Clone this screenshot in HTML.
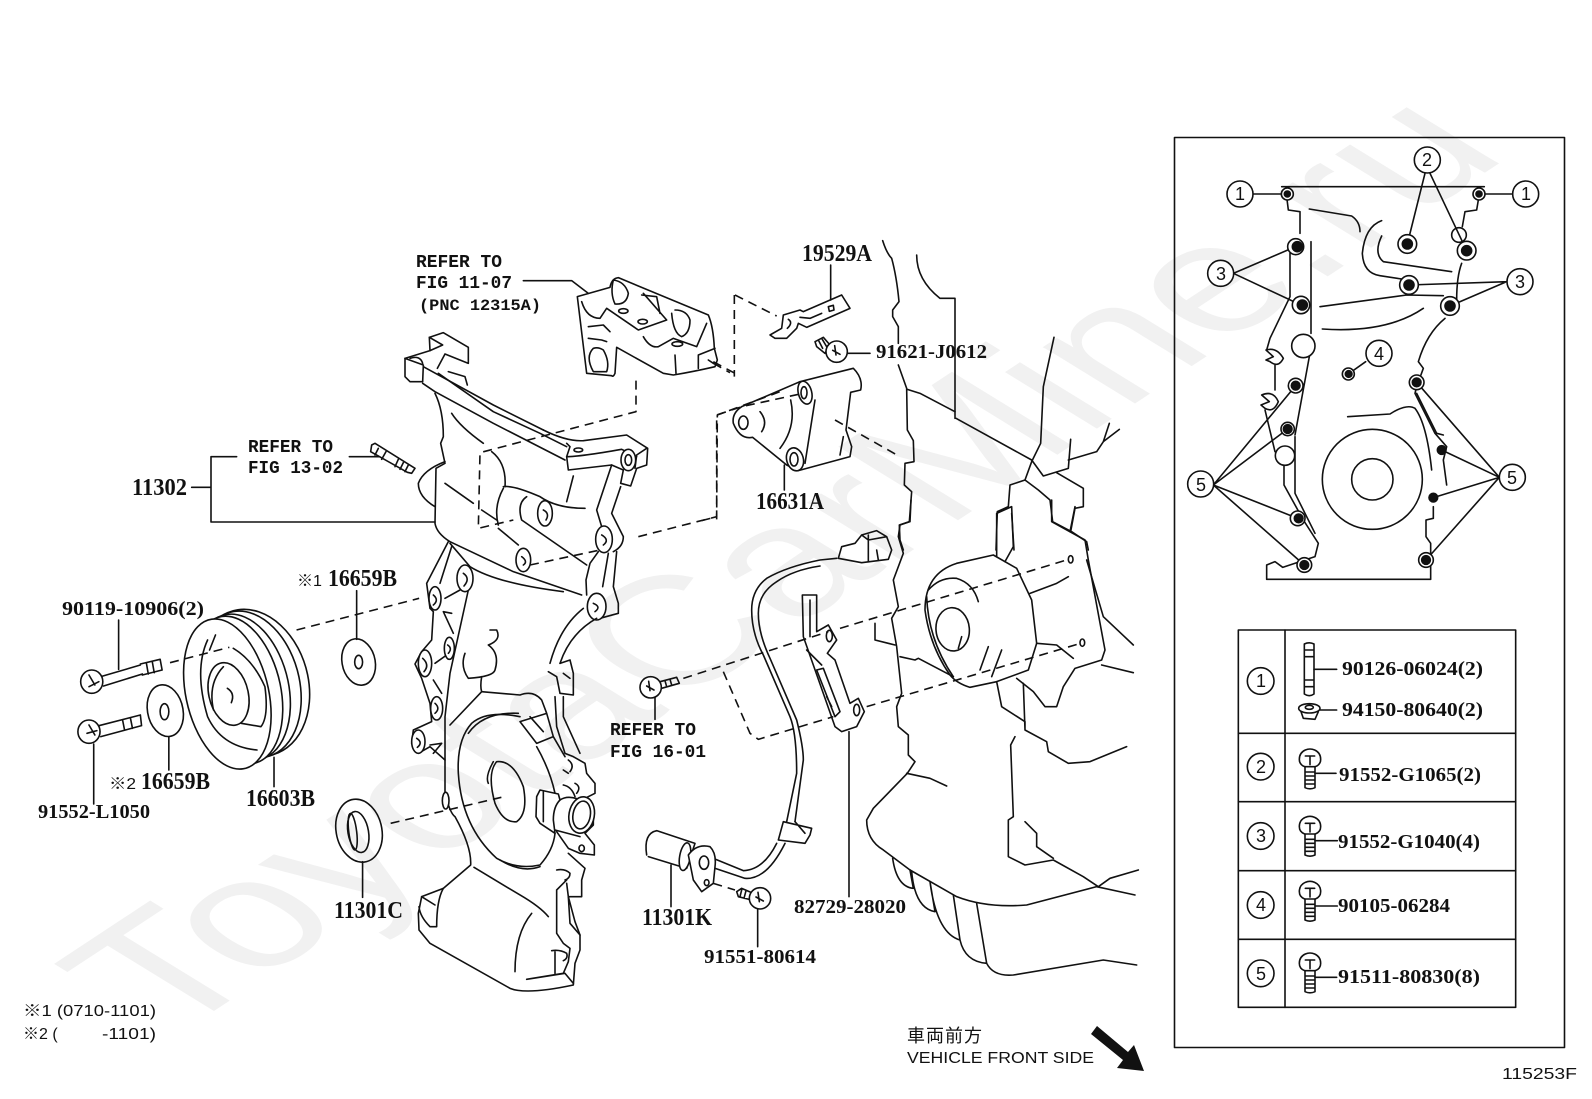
<!DOCTYPE html>
<html><head><meta charset="utf-8"><style>
html,body{margin:0;padding:0;background:#fff}
svg{display:block}
.l *,#tb *,#hb *{fill:none;stroke:#111;stroke-width:1.6;vector-effect:non-scaling-stroke;stroke-linejoin:round;stroke-linecap:round}
.l .w,#tb .w,#hb .w{fill:#fff}
.l .k{fill:#111}
.l .d{stroke-dasharray:9 6;stroke-linecap:butt}
text{fill:#111}
.n{font-family:"Liberation Serif",serif;font-weight:bold;font-size:20px}
.b{font-family:"Liberation Serif",serif;font-weight:bold;font-size:24px}
.m{font-family:"Liberation Mono",monospace;font-weight:bold;font-size:18px}
.s{font-family:"Liberation Sans",sans-serif;font-size:16px}
.c{font-family:"Liberation Sans",sans-serif;font-size:18px;text-anchor:middle}
.wm{font-family:"Liberation Sans",sans-serif;font-size:154px;fill:#f1f1f1}
</style></head><body>
<svg width="1592" height="1099" viewBox="0 0 1592 1099" xmlns="http://www.w3.org/2000/svg">
<defs>
<g id="tb">
<path class="w" d="M-14,-28 Q0,-34 14,-28 Q32,-20 32,0 Q32,16 16,22 L-16,22 Q-32,16 -32,0 Q-32,-20 -14,-28Z"/>
<path d="M-14,-10 L14,-10 M0,-10 L0,16 M-15,22 L-15,85 Q0,92 15,85 L15,22 M-15,38 L15,38 M-15,50 L15,50 M-15,62 L15,62 M-15,74 L15,74"/>
</g>
<g id="hb">
<circle class="w" cx="0" cy="0" r="32"/>
<path d="M-12,-4 L10,8 M-6,-18 L-2,10"/>
</g>
</defs>

<text class="wm" transform="translate(170,1040) scale(1.57,1) rotate(-46)" textLength="1229" lengthAdjust="spacingAndGlyphs">ToyotaCarMine.ru</text>

<!-- upper cover + bracket -->
<g class="l" transform="translate(380,230) scale(.33333)">
<path d="M592,200 L690,172 Q695,145 715,143 L985,255 Q1000,290 1003,355 L1012,390 L1005,410 Q940,425 880,435 L850,430 L710,352 L705,430 Q700,442 695,437 L620,430 Z"/>
<path d="M605,215 Q620,265 660,265 L680,235 L775,300 L860,270 L790,190"/>
<path d="M700,150 Q690,190 705,222 Q740,225 745,190 Q735,155 700,150"/>
<path d="M785,195 L830,200 L840,250 M790,320 Q810,355 835,350 L880,325 L950,350 L980,280"/>
<path d="M875,250 Q880,310 905,320 Q930,310 930,270 Q920,240 885,240"/>
<ellipse cx="730" cy="243" rx="14" ry="7"/><ellipse cx="788" cy="275" rx="14" ry="7"/><ellipse cx="892" cy="342" rx="16" ry="7"/>
<path d="M625,290 L670,285 L690,305 M625,325 L665,330 L680,335"/>
<path d="M640,355 Q615,380 640,425 L680,425 Q690,395 670,360 Q655,350 640,355"/>
<path d="M885,375 L888,430 M955,375 L1005,355 M955,375 L955,415"/>
<path d="M985,390 L1000,400"/>
<path class="d" d="M1000,400 L1050,428"/>
<path d="M75,385 L150,362 L148,322 L190,308 L265,352 L265,400 L195,372 L172,415"/>
<path d="M75,385 L75,440 L90,455 L128,455 L130,405 L75,385"/>
<path d="M148,322 L188,345 L150,362"/>
<path d="M90,385 Q120,375 128,400"/>
<path d="M130,410 L340,525 L490,600"/>
<path d="M128,460 L165,485 L340,580 L555,690"/>
<path d="M205,425 L255,440 L262,465"/>
<path d="M175,430 L340,545 L480,610 L560,650"/>
<path d="M490,600 Q560,635 610,632 L740,615 L803,655 L800,705 L770,715 L752,768 L722,760 L730,720 L695,705 L565,720 L560,680 L570,650 L560,640"/>
<path d="M560,680 Q600,680 725,658 L770,680 M800,655 L770,675 L765,715"/>
<ellipse cx="595" cy="660" rx="13" ry="6"/>
<ellipse class="w" cx="745" cy="690" rx="22" ry="32"/>
<ellipse cx="745" cy="690" rx="10" ry="16"/>
<path d="M165,490 Q190,540 190,620 L182,640 L195,700 L168,715 L165,880 Q170,910 210,935 L400,1025 L605,1095"/>
<path d="M195,695 Q130,720 115,760 Q115,800 165,830"/>
<path d="M215,550 Q240,590 310,640 M335,665 Q380,700 375,770 M195,760 L280,820 M305,840 L350,870 M355,895 L415,945"/>
<path d="M370,770 Q400,765 480,800 Q530,835 615,835 M370,775 Q340,830 355,885"/>
<path d="M440,800 Q410,820 425,870 L620,1005 M580,738 L560,815"/>
<ellipse cx="495" cy="850" rx="22" ry="38"/><path d="M490,840 Q510,850 498,870"/>
<ellipse cx="430" cy="990" rx="22" ry="35"/><path d="M425,980 Q445,995 430,1005"/>
<path d="M695,705 L650,840 L665,890 M722,770 L695,850 L730,920 Q730,950 700,965"/>
<ellipse class="w" cx="672" cy="928" rx="25" ry="40"/><path d="M665,915 Q690,930 670,945"/>
<path d="M655,965 L630,1000 L618,1050 L620,1095 M685,970 L668,1070 M710,965 L700,1070 L715,1120 L715,1150 L660,1165"/>
<ellipse class="w" cx="650" cy="1130" rx="28" ry="40"/><path d="M640,1120 Q665,1130 645,1145"/>
<path d="M210,940 L270,1010 Q350,1060 550,1085"/>
<path class="d" d="M768,452 L768,545 L300,668 L295,895 L400,870"/>
<path class="d" d="M450,1005 L660,960 M775,920 L1010,860 L1012,555 L1200,485"/>
<path d="M430,152 L575,152 L625,190"/>
</g>

<!-- lower cover -->
<g class="l" transform="translate(400,540) scale(.33333)">
<path d="M205,150 L150,400 L135,530 L135,760 Q150,820 165,830 Q215,920 212,975 L130,1045 L65,1070 L55,1120 L57,1170 L90,1210 L330,1345 Q380,1365 520,1335 L525,1270 L540,1230 L540,1185 L510,1150 L505,1070 L545,1070 L545,1020 L555,985 L505,940"/>
<path d="M145,5 L80,130 L90,205 L100,215 L95,300 L65,335 L45,372 L65,415 L90,490 L95,545 L40,570 L35,610 L55,640 L90,620 L135,660"/>
<path d="M155,20 L120,130 M155,220 L130,215 L160,280 M135,175 L180,150 M105,370 L140,345 M100,420 L125,460 M90,615 L125,610 L100,640"/>
<ellipse class="w" cx="195" cy="115" rx="24" ry="40"/><path d="M190,100 Q212,115 192,138"/>
<ellipse class="w" cx="105" cy="175" rx="18" ry="35"/><path d="M100,165 Q118,180 100,195"/>
<ellipse class="w" cx="148" cy="325" rx="15" ry="33"/><path d="M143,315 Q158,325 145,340"/>
<ellipse class="w" cx="75" cy="370" rx="20" ry="40"/><path d="M68,355 Q90,375 72,395"/>
<ellipse class="w" cx="110" cy="505" rx="18" ry="35"/><path d="M105,490 Q122,505 105,520"/>
<ellipse class="w" cx="55" cy="605" rx="20" ry="35"/><path d="M50,595 Q70,608 52,622"/>
<ellipse class="w" cx="137" cy="782" rx="10" ry="25"/>
<path d="M550,205 Q480,260 450,370 M590,235 Q510,280 480,370"/>
<path d="M445,395 L470,410 L480,460 L520,465 L520,400 L510,360 L480,370 M490,400 L510,415"/>
<path d="M465,470 L470,560 L495,640 L520,650 L555,670 L560,700 L585,730 L585,760 L555,775 L580,800 L580,855 L555,880 L583,915 L583,945 L540,940 L505,925 L470,875"/>
<path d="M490,470 L490,530 L540,640"/>
<path d="M245,410 Q240,440 245,455 L360,465 Q400,450 425,480 L440,520 L360,545 L410,610 L460,590 L440,520 M390,530 L430,575 M460,590 L495,650"/>
<path d="M245,455 L150,555 M195,340 Q180,380 205,415 Q280,410 285,390 Q300,340 265,315 Q305,300 290,270 L270,270"/>
<path d="M360,530 Q260,510 215,550 Q170,600 175,700 Q185,860 290,955 Q350,990 420,975 Q460,930 465,880"/>
<path d="M355,520 Q250,515 205,580 M410,620 Q450,690 465,760 M420,980 Q365,1000 300,960"/>
<path d="M290,665 Q260,700 285,790 Q310,850 350,845 Q385,820 370,740 Q340,660 290,665 M280,665 Q255,710 265,730"/>
<path class="w" d="M420,750 L475,762 L480,780 Q460,800 460,840 L465,880 L420,850 L408,830 L410,770 Z"/>
<path d="M430,755 L430,845 M480,780 Q510,760 560,790 M465,870 L540,890"/>
<ellipse class="w" cx="545" cy="825" rx="38" ry="55" transform="rotate(10 545 825)"/>
<ellipse cx="545" cy="825" rx="26" ry="42" transform="rotate(10 545 825)"/>
<path d="M505,660 Q525,675 510,695 M490,690 L505,700 M525,730 Q545,740 530,760 M490,735 Q515,740 525,770"/>
<ellipse cx="545" cy="925" rx="8" ry="10"/>
<path d="M470,990 Q495,985 510,1000 Q510,1015 495,1020 M470,1050 L500,1020 M470,1050 L470,1180 L490,1210 L510,1225 L505,1265 L490,1300 L380,1318 L495,1300 L520,1330"/>
<path d="M500,1030 L505,1070 L525,1145 L540,1185 M465,1235 L465,1300 M455,1232 Q480,1228 500,1240 Q505,1255 490,1262"/>
<path d="M222,982 L360,1065 Q420,1100 445,1130 M395,1120 Q345,1180 345,1295 M65,1070 L105,1095 M130,1045 Q110,1080 110,1160 L90,1160 Q60,1130 57,1100"/>
</g>

<!-- left column (zoom3 coords) -->
<g class="l" transform="translate(0,560) scale(.3954,.33333)">
<ellipse class="w" cx="640" cy="368" rx="140" ry="222" transform="rotate(-10 640 368)"/>
<ellipse class="w" cx="630" cy="373" rx="128" ry="222" transform="rotate(-10 630 373)"/>
<ellipse class="w" cx="612" cy="382" rx="118" ry="222" transform="rotate(-10 612 382)"/>
<ellipse class="w" cx="600" cy="390" rx="110" ry="224" transform="rotate(-10 600 390)"/>
<ellipse class="w" cx="575" cy="402" rx="105" ry="228" transform="rotate(-10 575 402)"/>
<ellipse cx="578" cy="402" rx="50" ry="95" transform="rotate(-10 578 402)"/>
<path d="M525,240 Q490,330 525,470 Q560,560 650,570 M545,225 L530,270 M590,265 Q640,300 670,380 Q680,470 660,500 L610,490 M565,320 Q525,370 540,450"/>
<path d="M575,385 Q595,400 585,428"/>
<path class="d" d="M750,210 L1060,115 M430,308 L580,262"/>
<path d="M255,350 L355,315 M262,378 L360,342 M355,312 L405,298 L410,330 L360,345 M370,308 L375,342 M385,304 L390,338"/>
<ellipse class="w" cx="232" cy="365" rx="28" ry="35"/><path d="M225,345 L240,375 M225,380 L250,365"/>
<path d="M300,180 L300,328"/>
<path d="M250,497 L355,465 L358,497 L255,530 M310,480 L315,510 M330,475 L335,505"/>
<ellipse class="w" cx="225" cy="515" rx="28" ry="35"/><path d="M225,495 L240,525 M220,520 L245,512"/>
<path d="M237,552 L237,732"/>
<ellipse cx="418" cy="452" rx="45" ry="78" transform="rotate(-8 418 452)"/>
<ellipse cx="416" cy="455" rx="11" ry="24"/>
<path d="M427,530 L427,630"/>
<ellipse cx="907" cy="306" rx="42" ry="70" transform="rotate(-8 907 306)"/>
<ellipse cx="907" cy="306" rx="10" ry="20"/>
<path d="M902,92 L902,238"/>
<path d="M693,592 L693,680"/>
<ellipse cx="908" cy="812" rx="58" ry="95" transform="rotate(-8 908 812)"/>
<ellipse cx="906" cy="816" rx="26" ry="62" transform="rotate(-8 906 816)"/>
<ellipse cx="892" cy="815" rx="10" ry="55" transform="rotate(-6 892 815)"/>
<path d="M917,905 L917,1012"/>
<path class="d" d="M988,790 L1268,712"/>
</g>

<!-- 11302 bracket -->
<g class="l" transform="translate(100,400) scale(.33333)">
<path d="M275,262 L333,262 M410,170 L333,170 L333,366 L1005,366 M748,170 L840,170"/>
<path class="w" d="M815,135 L825,130 L945,205 L935,220 L922,217 L812,155 Z"/>
<path d="M835,145 L825,165 M858,155 L845,178 M895,178 L885,200 M910,188 L900,208 M925,195 L915,215"/>
</g>

<!-- top right mid & engine -->
<g class="l" transform="translate(700,230) scale(.33333)">
<path d="M548,32 Q560,70 575,85 Q590,140 597,215 L578,240 L578,260 L595,290 L595,340 M595,405 L620,475 L622,600 L640,632 L642,695 L615,700 L613,765 L635,785 L628,875 L598,885 L600,930 L610,960"/>
<path d="M650,75 Q650,150 720,205 L765,205 L765,565"/>
<path d="M622,478 L660,490 L765,545 M768,565 L995,690 L1030,738 L1105,715 L1112,628"/>
<path d="M1062,322 L1030,470 L1022,640 L995,695 L975,750 M1105,690 L1190,665 L1210,635 L1228,580 M1210,635 L1258,598"/>
<path d="M975,750 L930,765 L925,830 L892,845 L888,960 M975,750 L1015,780 L1050,810 L1058,875 L1115,905 L1160,935 L1165,960 M1070,728 L1150,775 L1150,830 L1125,835 L1112,905 M935,850 L942,960"/>
<path d="M210,315 L245,295 L250,255 L300,240 L310,245 L425,195 L450,235 L320,292 L295,280 L290,295 L260,325 L225,325 Z"/>
<path d="M300,262 L330,265 L365,250 M265,268 Q280,278 262,295 M385,230 L400,226 L402,240 L388,244 Z M392,105 L392,210"/>
<path class="d" d="M105,195 L230,258 M103,195 L103,440 M40,395 L105,430"/>
<path d="M345,335 L370,322 L390,345 L375,370 L350,350 Z M355,330 L368,355 M365,325 L380,350"/>
<use href="#hb" x="410" y="365"/>
<path d="M443,370 L510,370"/>
<path d="M125,530 L300,455 L460,415 Q490,445 482,480 L452,487 L438,600 L455,650 L450,680 L295,722 L260,705 L158,622 Q120,630 100,580 Q95,550 125,530"/>
<ellipse cx="130" cy="578" rx="14" ry="20"/>
<ellipse class="w" cx="315" cy="488" rx="20" ry="35" transform="rotate(-15 315 488)"/><ellipse cx="312" cy="488" rx="9" ry="18"/>
<ellipse class="w" cx="285" cy="688" rx="25" ry="35" transform="rotate(-15 285 688)"/><ellipse cx="282" cy="688" rx="12" ry="20"/>
<path d="M345,510 L315,700 M272,510 Q290,590 240,655 M180,545 Q205,575 185,605 M430,620 L420,675 M253,705 L253,780"/>
<path class="d" d="M50,868 L50,555 L125,530 L300,492 M5,872 L50,860 M405,570 L600,680"/>
</g>

<!-- sensor & engine lower -->
<g class="l" transform="translate(620,500) scale(.33333)">
<path d="M725,105 L770,92 L800,110 L815,150 L805,178 L725,188 L655,175 L665,140 L705,130 Z M745,105 L745,185 M770,150 L775,180 M725,105 L745,120 L800,110"/>
<path d="M650,175 L600,180 Q500,200 440,235 Q395,270 395,330 Q395,400 430,465 L510,650 Q530,700 530,820 L500,965"/>
<path d="M600,198 Q520,210 470,245 Q415,280 415,340 Q415,400 450,475 L530,660 Q550,740 550,780 L525,965"/>
<path d="M490,965 L575,985 L570,1005 L555,1030 L475,1020 Z M525,965 L555,1000"/>
<path d="M495,1030 Q440,1140 375,1135 L270,1100 M470,1030 Q430,1110 370,1112 L280,1075"/>
<path d="M80,1065 Q70,1000 110,992 L225,1030 L200,1105 L85,1070"/>
<ellipse class="w" cx="195" cy="1070" rx="16" ry="42" transform="rotate(10 195 1070)"/>
<path class="w" d="M205,1065 Q230,1030 270,1040 Q290,1060 285,1100 L280,1150 L245,1175 L220,1140 Z"/>
<ellipse cx="252" cy="1088" rx="14" ry="20"/><ellipse cx="260" cy="1148" rx="7" ry="9"/>
<path d="M153,1095 L153,1220 M413,1228 L413,1340 M105,590 L105,658"/>
<path class="d" d="M280,1150 L345,1170"/>
<path d="M350,1175 L365,1165 L400,1180 L395,1200 L355,1190 Z M365,1170 L360,1190 M378,1172 L372,1195"/>
<use href="#hb" x="420" y="1195"/>
<path d="M120,545 L170,532 L178,550 L125,565 M135,542 L140,560 M150,538 L155,555"/>
<use href="#hb" x="92" y="562"/>
<path d="M547,285 L590,285 L590,395 L625,375 L650,420 L622,460 L645,480 L690,610 L715,595 L733,635 L710,680 L665,695 L645,680 L550,410 Z"/>
<path d="M570,300 L570,410 M560,450 L605,495 M590,510 L610,505 L660,635 L645,650 Z M620,590 L635,620"/>
<ellipse cx="628" cy="408" rx="9" ry="17"/><ellipse cx="710" cy="630" rx="9" ry="17"/>
<path d="M687,695 L687,1190"/>
<path class="d" d="M190,535 L625,395 M660,385 L1340,180 M310,515 L390,700 L415,718 L640,650 M740,620 L1375,432"/>
<ellipse cx="1352" cy="178" rx="7" ry="11"/><ellipse cx="1387" cy="428" rx="7" ry="11"/>
<path d="M873,0 L870,65 L840,75 L835,110 L850,160 L820,240 L835,320 L815,355 L830,440 L845,580 L830,620 L835,680 L865,705 L865,765 L885,785 L862,820 L760,925 L740,960 Q740,1020 790,1050 L870,1110 L1010,1190 Q1100,1225 1220,1215 L1430,1160 L1545,1185"/>
<path d="M1010,190 L1120,165 L1190,205 L1235,300 L1250,430 L1225,510 L1130,545 L1050,562 Q1010,550 990,525 Q930,440 915,330 Q915,220 1010,190"/>
<path d="M925,270 Q960,230 1010,235 Q1060,250 1075,305 M920,290 Q925,420 1000,530"/>
<ellipse cx="998" cy="388" rx="50" ry="65" transform="rotate(-5 998 388)"/>
<path d="M1105,440 L1080,510 M1145,450 L1115,530 M1025,410 L1015,445"/>
<path d="M1130,170 L1130,40 L1175,20 L1180,140 L1155,185 M1295,0 L1295,65 L1395,120 L1405,180 L1455,450 L1445,480 L1365,505 L1330,560 L1310,620 L1275,620 L1240,575 L1190,535"/>
<path d="M1230,280 L1310,250 L1345,230 M1250,430 L1310,435 L1360,475 M1130,545 L1145,620 L1215,665 L1215,690 L1280,725 L1285,755 L1345,790 L1410,785 L1520,740 M1210,550 L1215,690"/>
<path d="M1185,710 L1172,735 L1180,950 L1165,960 L1165,1070 L1215,1095 L1300,1080 L1390,1130 L1435,1160 L1470,1135 L1555,1110 M1215,965 L1250,1000 L1250,1040 L1300,1075"/>
<path d="M1445,495 L1540,518 M1400,180 L1450,350 L1540,435 M1365,20 L1350,95 M765,370 L765,420 L825,435 M840,470 L885,480 L895,475 L1000,530 M860,820 L930,835 L980,858"/>
<path d="M818,1075 Q830,1160 880,1165 L870,1110 M875,1115 Q885,1225 945,1235 L930,1145 M930,1145 Q950,1300 1020,1320 L1000,1185 M1020,1320 Q1035,1385 1100,1390 L1070,1210 M1100,1390 Q1120,1430 1180,1425 L1450,1380 L1550,1395"/>
</g>

<!-- inset box -->
<g class="l"><rect x="1174.5" y="137.5" width="390" height="910"/></g>
<g class="l" transform="translate(1160,130) scale(.33333)">
<path d="M365,170 L973,170 M380,200 L385,240 L420,245 L420,310 M955,210 L950,240 L915,245 L907,290"/>
<path d="M390,370 L390,500 L330,625 L320,660 M345,705 L345,780 M315,840 L345,965 M372,1005 L372,1065 L430,1170 L475,1240 L465,1280 L368,1312 L345,1295 L320,1305 L320,1348 L812,1348 L812,1240 L798,1220 L798,1170 L820,1165 L820,1130 M860,1065 L850,990 L860,950 L825,910 L800,860 L765,790 L770,770 L790,715 L775,695 Q800,610 855,565"/>
<path d="M405,920 L405,1090 L465,1210"/>
<path d="M453,335 L453,610 M448,680 L405,915"/>
<path d="M448,237 L575,258 Q600,275 600,305 M665,272 Q615,290 607,370 Q610,430 660,437 L725,447 M665,318 Q640,370 670,395 L875,425"/>
<path d="M905,400 Q890,440 890,510 M480,530 L740,495 L850,497 M487,597 Q680,610 790,535"/>
<path d="M563,860 L690,852 Q740,820 765,835 Q800,880 815,1020"/>
<path d="M770,790 L830,910 L850,915"/>
<circle cx="430" cy="648" r="35" class="w"/><circle cx="375" cy="977" r="29" class="w"/><circle cx="897" cy="315" r="22"/>
<path d="M318,660 Q350,650 370,685 Q355,715 330,695 L318,690 L340,680 Z"/>
<path d="M305,795 Q340,780 355,815 Q340,850 315,835 L303,825 L328,815 Z"/>
<circle cx="637" cy="1048" r="150"/><circle cx="637" cy="1048" r="62"/>
<path d="M280,192 L365,192 M1055,192 L972,192"/>
<path d="M795,130 L742,342 M810,130 L920,362 M220,430 L407,350 M220,430 L423,525 M1040,455 L747,465 M1040,455 L870,528"/>
<path d="M617,695 L565,732 M160,1065 L407,767 M160,1065 L383,897 M160,1065 L413,1165 M160,1065 L433,1305"/>
<path d="M1018,1042 L770,757 M1018,1042 L845,960 M1018,1042 L820,1103 M1018,1042 L798,1290"/>
<g>
<circle class="w" cx="382" cy="192" r="18"/><circle class="k" cx="382" cy="192" r="9"/>
<circle class="w" cx="957" cy="192" r="18"/><circle class="k" cx="957" cy="192" r="9"/>
<circle class="w" cx="742" cy="342" r="28"/><circle class="k" cx="742" cy="342" r="15"/>
<circle class="w" cx="920" cy="362" r="28"/><circle class="k" cx="920" cy="362" r="15"/>
<circle class="w" cx="407" cy="350" r="24"/><circle class="k" cx="412" cy="350" r="15"/>
<circle class="w" cx="423" cy="525" r="26"/><circle class="k" cx="427" cy="525" r="15"/>
<circle class="w" cx="747" cy="465" r="28"/><circle class="k" cx="747" cy="465" r="15"/>
<circle class="w" cx="870" cy="528" r="28"/><circle class="k" cx="870" cy="528" r="15"/>
<circle class="w" cx="565" cy="732" r="18"/><circle class="k" cx="566" cy="732" r="10"/>
<circle class="w" cx="770" cy="757" r="22"/><circle class="k" cx="770" cy="757" r="13"/>
<circle class="w" cx="407" cy="767" r="22"/><circle class="k" cx="407" cy="767" r="13"/>
<circle class="w" cx="383" cy="897" r="20"/><circle class="k" cx="383" cy="897" r="13"/>
<circle class="k" cx="845" cy="960" r="13"/>
<circle class="k" cx="820" cy="1103" r="13"/>
<circle class="w" cx="413" cy="1165" r="22"/><circle class="k" cx="416" cy="1165" r="13"/>
<circle class="w" cx="433" cy="1305" r="22"/><circle class="k" cx="433" cy="1305" r="13"/>
<circle class="w" cx="798" cy="1290" r="22"/><circle class="k" cx="798" cy="1290" r="13"/>
</g>
<circle class="w" cx="240" cy="192" r="39"/><circle class="w" cx="1097" cy="192" r="39"/>
<circle class="w" cx="802" cy="90" r="39"/>
<circle class="w" cx="182" cy="430" r="39"/><circle class="w" cx="1080" cy="455" r="39"/>
<circle class="w" cx="657" cy="670" r="39"/>
<circle class="w" cx="122" cy="1062" r="39"/><circle class="w" cx="1057" cy="1042" r="39"/>
</g>
<text class="c" x="1240" y="200">1</text><text class="c" x="1526" y="200">1</text>
<text class="c" x="1427" y="166">2</text>
<text class="c" x="1221" y="280">3</text><text class="c" x="1520" y="288">3</text>
<text class="c" x="1379" y="360">4</text>
<text class="c" x="1201" y="491">5</text><text class="c" x="1512" y="484">5</text>

<!-- table -->
<g class="l" transform="translate(1220,620) scale(.33333)">
<rect x="55" y="30" width="832" height="1132"/>
<path d="M195,30 L195,1162 M55,340 L887,340 M55,545 L887,545 M55,752 L887,752 M55,958 L887,958"/>
<circle cx="122" cy="183" r="40"/><circle cx="122" cy="440" r="40"/><circle cx="122" cy="648" r="40"/><circle cx="122" cy="855" r="40"/><circle cx="122" cy="1060" r="40"/>
<path d="M253,72 Q268,65 282,72 L282,222 Q268,232 253,222 Z M253,90 L282,90 M253,110 L282,110 M253,180 L282,180 M253,200 L282,200"/>
<path d="M282,148 L350,148 M300,270 L350,270"/>
<ellipse cx="268" cy="265" rx="32" ry="14"/><ellipse cx="268" cy="262" rx="12" ry="6"/>
<path d="M243,275 L250,295 L285,298 L295,275"/>
<use href="#tb" x="270" y="418"/><use href="#tb" x="270" y="620"/><use href="#tb" x="270" y="815"/><use href="#tb" x="270" y="1030"/>
<path d="M285,460 L348,460 M285,662 L352,662 M285,858 L352,858 M285,1072 L350,1072"/>
</g>
<text class="c" x="1261" y="687">1</text><text class="c" x="1261" y="773">2</text><text class="c" x="1261" y="842">3</text><text class="c" x="1261" y="911">4</text><text class="c" x="1261" y="980">5</text>

<!-- arrow -->
<polygon points="1091,1034 1097,1026 1128,1052 1134,1045 1144,1071 1117,1068 1123,1060" fill="#111"/>

<!-- labels -->
<text class="m" x="416" y="267" textLength="86" lengthAdjust="spacingAndGlyphs">REFER TO</text>
<text class="m" x="416" y="288" textLength="96" lengthAdjust="spacingAndGlyphs">FIG 11-07</text>
<text class="m" x="419" y="310" textLength="122" lengthAdjust="spacingAndGlyphs" style="font-size:16px">(PNC 12315A)</text>
<text class="b" x="802" y="261" textLength="70" lengthAdjust="spacingAndGlyphs">19529A</text>
<text class="n" x="876" y="358" textLength="111" lengthAdjust="spacingAndGlyphs">91621-J0612</text>
<text class="b" x="756" y="509" textLength="68" lengthAdjust="spacingAndGlyphs">16631A</text>
<text class="b" x="132" y="495" textLength="55" lengthAdjust="spacingAndGlyphs">11302</text>
<text class="m" x="248" y="452" textLength="85" lengthAdjust="spacingAndGlyphs">REFER TO</text>
<text class="m" x="248" y="473" textLength="95" lengthAdjust="spacingAndGlyphs">FIG 13-02</text>
<text class="s" x="297" y="586" textLength="25" lengthAdjust="spacingAndGlyphs" style="font-family:'Liberation Sans','Noto Sans CJK JP',sans-serif">※1</text>
<text class="b" x="328" y="586" textLength="69" lengthAdjust="spacingAndGlyphs">16659B</text>
<text class="n" x="62" y="615" textLength="142" lengthAdjust="spacingAndGlyphs">90119-10906(2)</text>
<text class="n" x="38" y="818" textLength="112" lengthAdjust="spacingAndGlyphs">91552-L1050</text>
<text class="s" x="109" y="789" textLength="27" lengthAdjust="spacingAndGlyphs" style="font-family:'Liberation Sans','Noto Sans CJK JP',sans-serif">※2</text>
<text class="b" x="141" y="789" textLength="69" lengthAdjust="spacingAndGlyphs">16659B</text>
<text class="b" x="246" y="806" textLength="69" lengthAdjust="spacingAndGlyphs">16603B</text>
<text class="b" x="334" y="918" textLength="69" lengthAdjust="spacingAndGlyphs">11301C</text>
<text class="s" x="23" y="1016" textLength="133" lengthAdjust="spacingAndGlyphs" style="font-family:'Liberation Sans','Noto Sans CJK JP',sans-serif">※1 (0710-1101)</text>
<text class="s" x="23" y="1039" style="font-family:'Liberation Sans','Noto Sans CJK JP',sans-serif">※2 (</text>
<text class="s" x="102" y="1039" textLength="54" lengthAdjust="spacingAndGlyphs">-1101)</text>
<text class="m" x="610" y="735" textLength="86" lengthAdjust="spacingAndGlyphs">REFER TO</text>
<text class="m" x="610" y="757" textLength="96" lengthAdjust="spacingAndGlyphs">FIG 16-01</text>
<text class="n" x="794" y="913" textLength="112" lengthAdjust="spacingAndGlyphs">82729-28020</text>
<text class="b" x="642" y="925" textLength="70" lengthAdjust="spacingAndGlyphs">11301K</text>
<text class="n" x="704" y="963" textLength="112" lengthAdjust="spacingAndGlyphs">91551-80614</text>
<text class="n" x="1342" y="675" textLength="141" lengthAdjust="spacingAndGlyphs">90126-06024(2)</text>
<text class="n" x="1342" y="716" textLength="141" lengthAdjust="spacingAndGlyphs">94150-80640(2)</text>
<text class="n" x="1339" y="781" textLength="142" lengthAdjust="spacingAndGlyphs">91552-G1065(2)</text>
<text class="n" x="1338" y="848" textLength="142" lengthAdjust="spacingAndGlyphs">91552-G1040(4)</text>
<text class="n" x="1338" y="912" textLength="112" lengthAdjust="spacingAndGlyphs">90105-06284</text>
<text class="n" x="1338" y="983" textLength="142" lengthAdjust="spacingAndGlyphs">91511-80830(8)</text>
<text class="s" x="1502" y="1079" textLength="75" lengthAdjust="spacingAndGlyphs">115253F</text>
<text x="907" y="1042" style="font-family:'Liberation Sans','Noto Sans CJK JP',sans-serif;font-size:18px" textLength="75">車両前方</text>
<text class="s" x="907" y="1063" textLength="187" lengthAdjust="spacingAndGlyphs">VEHICLE FRONT SIDE</text>
</svg>
</body></html>
